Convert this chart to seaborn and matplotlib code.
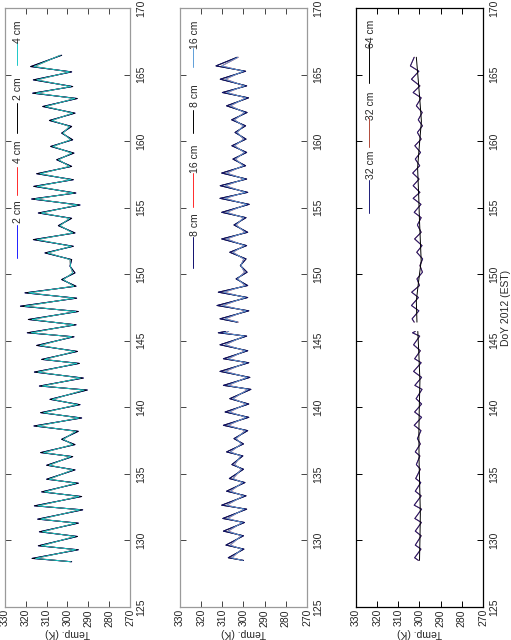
import matplotlib
matplotlib.use("Agg")
import matplotlib.pyplot as plt
import numpy as np
import pandas as pd
import seaborn as sns

# axis ticks
doy_ticks = [125, 130, 135, 140, 145, 150, 155, 160, 165, 170]
temp_ticks = [270, 280, 290, 300, 310, 320, 330]

# top panel: 2 cm / 4 cm, daily maxima and minima (K)
peak_doy_1 = [128.65, 129.60, 130.65, 131.60, 132.60, 133.65, 134.60, 135.65, 136.60, 137.60,
              138.60, 139.60, 140.60, 141.60, 142.65, 143.60, 144.65, 145.60, 146.60, 147.60,
              148.60, 149.60, 150.60, 151.60, 152.60, 153.65, 154.60, 155.65, 156.60, 157.55,
              158.60, 159.60, 160.60, 161.55, 162.60, 163.60, 164.60, 165.60]
peak_2cm = [317.0, 314.0, 313.5, 314.3, 315.9, 312.4, 310.0, 310.0, 312.9, 302.8,
            316.1, 312.9, 308.4, 313.5, 315.9, 312.4, 314.8, 319.3, 318.8, 322.6,
            320.4, 302.8, 298.8, 310.8, 316.4, 304.4, 314.0, 317.2, 316.2, 314.8,
            305.2, 308.1, 302.8, 308.7, 311.9, 316.7, 316.4, 317.7]
peak_4cm = [315.3, 312.5, 312.0, 312.8, 314.2, 311.0, 308.8, 308.8, 311.4, 302.0,
            314.4, 311.4, 307.2, 312.0, 314.2, 311.0, 313.2, 317.4, 317.0, 320.5,
            318.6, 302.0, 298.6, 309.5, 314.6, 303.6, 312.5, 315.5, 314.6, 313.2,
            304.3, 307.0, 302.2, 307.5, 310.5, 315.0, 314.7, 316.0]
trough_doy_1 = [128.40, 129.30, 130.30, 131.30, 132.30, 133.30, 134.30, 135.30, 136.30, 137.20,
                138.20, 139.20, 140.20, 141.30, 142.20, 143.30, 144.20, 145.30, 146.20, 147.20,
                148.20, 149.10, 150.10, 151.10, 152.10, 153.10, 154.20, 155.20, 156.10, 157.10,
                158.10, 159.10, 160.10, 161.10, 162.10, 163.20, 164.10, 165.20, 166.45]
trough_2cm = [298.0, 294.8, 295.2, 294.8, 292.7, 293.2, 294.8, 296.4, 297.5, 296.4,
              294.8, 293.2, 294.0, 290.5, 292.4, 294.3, 295.2, 296.9, 295.9, 294.8,
              295.6, 295.9, 296.4, 298.0, 297.2, 296.4, 298.0, 294.0, 296.0, 297.2,
              298.0, 296.9, 297.5, 298.0, 296.4, 295.3, 297.5, 298.0, 302.8]
trough_4cm = [298.5, 296.0, 296.4, 296.0, 294.0, 294.5, 296.0, 297.5, 298.5, 297.5,
              296.0, 294.5, 295.2, 292.0, 293.8, 295.5, 296.4, 298.0, 297.0, 296.0,
              296.8, 297.0, 297.5, 298.8, 298.2, 297.5, 299.0, 295.3, 297.2, 298.3,
              299.0, 298.0, 298.5, 299.0, 297.5, 296.5, 298.5, 299.0, 303.5]

# middle and bottom panels (no data between 145.7 and 146.4)
gap_doy = 146.0
peak_doy_2 = [128.70, 129.65, 130.70, 131.65, 132.65, 133.70, 134.65, 135.70, 136.65, 137.65,
              138.65, 139.65, 140.65, 141.65, 142.70, 143.65, 144.70, 145.60, 146.65, 147.65,
              148.65, 149.65, 150.65, 151.65, 152.65, 153.70, 154.65, 155.70, 156.65, 157.60,
              158.65, 159.65, 160.65, 161.60, 162.65, 163.65, 164.65, 165.65]
peak_8cm = [307.2, 308.3, 309.5, 309.8, 310.3, 308.0, 306.7, 305.5, 308.0, 304.5,
            309.5, 308.7, 306.5, 309.5, 311.1, 309.5, 311.1, 311.9, 311.1, 312.5,
            311.9, 303.5, 301.5, 306.5, 310.3, 304.5, 310.3, 311.1, 311.0, 310.3,
            305.0, 305.5, 304.0, 305.6, 308.0, 310.0, 311.0, 313.0]
peak_16cm = [305.5, 306.3, 307.3, 307.6, 308.0, 306.2, 305.0, 304.2, 306.2, 303.5,
             307.3, 306.7, 305.0, 307.3, 308.7, 307.3, 308.7, 309.3, 308.7, 309.8,
             309.3, 302.8, 301.2, 305.0, 308.0, 303.5, 308.0, 308.7, 308.6, 308.0,
             303.8, 304.2, 303.0, 304.3, 306.2, 307.8, 308.6, 310.3]
peak_32cm = [302.3, 302.0, 302.0, 302.2, 302.5, 302.0, 301.8, 301.5, 302.0, 301.0,
             302.5, 302.3, 301.6, 302.2, 302.8, 302.3, 302.8, 303.3, 303.5, 303.8,
             303.7, 301.2, 299.8, 301.3, 302.3, 301.0, 302.5, 303.0, 303.0, 303.2,
             302.0, 302.2, 301.0, 300.6, 301.5, 303.0, 303.8, 304.3]
trough_doy_2 = [128.50, 129.35, 130.35, 131.35, 132.35, 133.35, 134.35, 135.35, 136.35, 137.25,
                138.25, 139.25, 140.25, 141.35, 142.25, 143.35, 144.25, 145.35, 145.70, 146.40,
                147.25, 148.25, 149.15, 150.15, 151.15, 152.15, 153.15, 154.25, 155.25, 156.15,
                157.15, 158.15, 159.15, 160.15, 161.15, 162.15, 163.25, 164.15, 165.25, 166.30]
trough_8cm = [300.0, 299.8, 300.0, 299.5, 298.5, 298.8, 299.3, 300.0, 300.3, 300.0,
              298.0, 297.5, 297.5, 296.5, 297.0, 297.5, 298.0, 298.5, 308.5, 303.0,
              297.5, 298.0, 298.0, 298.3, 298.8, 298.5, 298.0, 298.8, 297.3, 298.0,
              298.5, 299.0, 298.5, 298.8, 299.0, 298.3, 297.6, 298.5, 299.0, 303.0]
trough_16cm = [300.5, 300.8, 301.0, 300.6, 299.7, 300.0, 300.4, 301.0, 301.3, 301.0,
               299.2, 298.8, 298.8, 297.9, 298.3, 298.8, 299.2, 299.7, 307.0, 302.5,
               298.8, 299.2, 299.2, 299.5, 299.9, 299.6, 299.2, 299.9, 298.6, 299.2,
               299.6, 300.1, 299.6, 299.9, 300.1, 299.5, 298.9, 299.6, 300.1, 302.5]
trough_32cm = [300.5, 299.3, 299.2, 299.1, 299.0, 299.2, 299.4, 299.6, 299.8, 299.6,
               299.3, 299.0, 299.0, 298.8, 299.0, 299.2, 299.6, 299.9, 302.0, 302.5,
               300.3, 300.5, 300.0, 298.6, 298.5, 298.8, 299.2, 299.2, 299.3, 299.8,
               300.2, 299.9, 299.5, 299.2, 298.6, 298.7, 299.2, 299.8, 300.3, 302.5]
doy_64 = [128.5, 130.0, 132.0, 134.0, 136.0, 138.0, 140.0, 142.0, 144.0, 145.7, 146.4, 148.0,
          149.5, 151.0, 152.5, 154.0, 156.0, 158.0, 160.0, 161.5, 163.0, 165.0, 166.3]
temp_64cm = [300.0, 299.8, 299.6, 299.9, 300.2, 300.3, 300.1, 299.8, 300.3, 300.8, 301.2, 301.5,
             300.4, 299.2, 299.6, 300.0, 300.4, 300.9, 299.9, 299.1, 299.8, 300.8, 301.5]

labels_1 = ["2 cm", "4 cm", "2 cm", "4 cm"]
colors_1 = ["#1f1fff", "#ff2a2a", "#000000", "#1cc8c8"]
labels_2 = ["8 cm", "16 cm", "8 cm", "16 cm"]
colors_2 = ["#10106e", "#ff2a2a", "#000000", "#5f9fd8"]
labels_3 = ["32 cm", "32 cm", "64 cm"]
colors_3 = ["#1c1c78", "#b04a3a", "#000000"]


def zigzag(peak_doy, peaks, trough_doy, troughs):
    doy = np.concatenate([peak_doy, trough_doy])
    temp = np.concatenate([peaks, troughs])
    order = np.argsort(doy)
    return doy[order], temp[order]


def panel_frame(series, split):
    frames = []
    for key, (doy, temp) in series.items():
        doy = np.asarray(doy)
        seg = (doy > gap_doy).astype(int) if split else np.zeros(len(doy), dtype=int)
        frames.append(pd.DataFrame({"doy": doy, "temp": temp, "series": key, "seg": seg}))
    return pd.concat(frames, ignore_index=True)


def draw_key(ax, labels, colors, spots, x_line, x_text):
    # legend drawn by hand, rotated like the rest of the figure
    for lab, col, (y0, y1, yt) in zip(labels, colors, spots):
        ax.plot([x_line, x_line], [y0, y1], transform=ax.transAxes, color=col, lw=0.7)
        ax.text(x_text, yt, lab, transform=ax.transAxes, rotation=90,
                ha="center", va="center", fontsize=7.5)


def style_axes(ax, frame_color, tick_color):
    ax.set_xlim(330, 270)
    ax.set_ylim(125, 170)
    ax.set_xticks(temp_ticks)
    ax.set_yticks(doy_ticks)
    ax.tick_params(axis="x", direction="in", top=True, bottom=True, labelbottom=True,
                   labelrotation=90, length=4, width=0.7, pad=1.5, labelsize=7.5,
                   color=tick_color)
    ax.tick_params(axis="y", direction="in", left=True, right=True, labelleft=False,
                   labelright=True, labelrotation=90, length=4, width=0.7, pad=4.5,
                   labelsize=7.5, color=tick_color)
    for lab in ax.get_yticklabels():
        lab.set_va("center")
    for sp in ax.spines.values():
        sp.set_color(frame_color)
        sp.set_linewidth(0.9)
    ax.set_xlabel("Temp. (K)", rotation=180, fontsize=7.5, labelpad=1)
    ax.set_ylabel("")


sns.set_theme(style="white")
plt.rcParams["font.family"] = ["Liberation Sans", "DejaVu Sans"]

fig = plt.figure(figsize=(5.11, 6.40), dpi=100)
ax1 = fig.add_axes([0.00978, 0.05156, 0.24462, 0.93594])
ax2 = fig.add_axes([0.35225, 0.05156, 0.24853, 0.93594])
ax3 = fig.add_axes([0.69667, 0.05156, 0.24853, 0.93594])

# panel 1
s2 = zigzag(peak_doy_1, peak_2cm, trough_doy_1, trough_2cm)
s4 = zigzag(peak_doy_1, peak_4cm, trough_doy_1, trough_4cm)
keys_1 = ["2a", "4a", "2b", "4b"]
df1 = panel_frame(dict(zip(keys_1, [s2, s4, s2, s4])), split=False)
sns.lineplot(data=df1, x="temp", y="doy", hue="series", hue_order=keys_1,
             palette=dict(zip(keys_1, colors_1)), units="seg", estimator=None,
             sort=False, orient="y", legend=False, linewidth=0.7, ax=ax1)

# panel 2
s8 = zigzag(peak_doy_2, peak_8cm, trough_doy_2, trough_8cm)
s16 = zigzag(peak_doy_2, peak_16cm, trough_doy_2, trough_16cm)
keys_2 = ["8a", "16a", "8b", "16b"]
df2 = panel_frame(dict(zip(keys_2, [s8, s16, s8, s16])), split=True)
sns.lineplot(data=df2, x="temp", y="doy", hue="series", hue_order=["16a", "8b", "8a", "16b"],
             palette=dict(zip(keys_2, colors_2)), units="seg", estimator=None,
             sort=False, orient="y", legend=False, linewidth=0.7, ax=ax2)

# panel 3
s32 = zigzag(peak_doy_2, peak_32cm, trough_doy_2, trough_32cm)
keys_3 = ["32a", "32b", "64"]
df3 = panel_frame(dict(zip(keys_3, [s32, s32, (doy_64, temp_64cm)])), split=True)
sns.lineplot(data=df3, x="temp", y="doy", hue="series", hue_order=["32b", "32a", "64"],
             palette=dict(zip(keys_3, colors_3)), units="seg", estimator=None,
             sort=False, orient="y", legend=False, linewidth=0.7, ax=ax3)

style_axes(ax1, "#9a9a9a", "#444444")
style_axes(ax2, "#9a9a9a", "#444444")
style_axes(ax3, "#000000", "#000000")
ax3.yaxis.set_label_position("right")
ax3.set_ylabel("DoY 2012 (EST)", rotation=90, fontsize=7.5, labelpad=1)

draw_key(ax1, labels_1, colors_1,
         [(0.583, 0.638, 0.660), (0.688, 0.735, 0.760), (0.791, 0.841, 0.865), (0.905, 0.943, 0.961)],
         0.100, 0.104)
draw_key(ax2, labels_2, colors_2,
         [(0.566, 0.618, 0.639), (0.668, 0.725, 0.749), (0.791, 0.830, 0.853), (0.902, 0.933, 0.955)],
         0.102, 0.116)
draw_key(ax3, labels_3, colors_3,
         [(0.658, 0.713, 0.738), (0.768, 0.816, 0.836), (0.875, 0.942, 0.957)],
         0.102, 0.120)

fig.savefig("out.png", dpi=100)
